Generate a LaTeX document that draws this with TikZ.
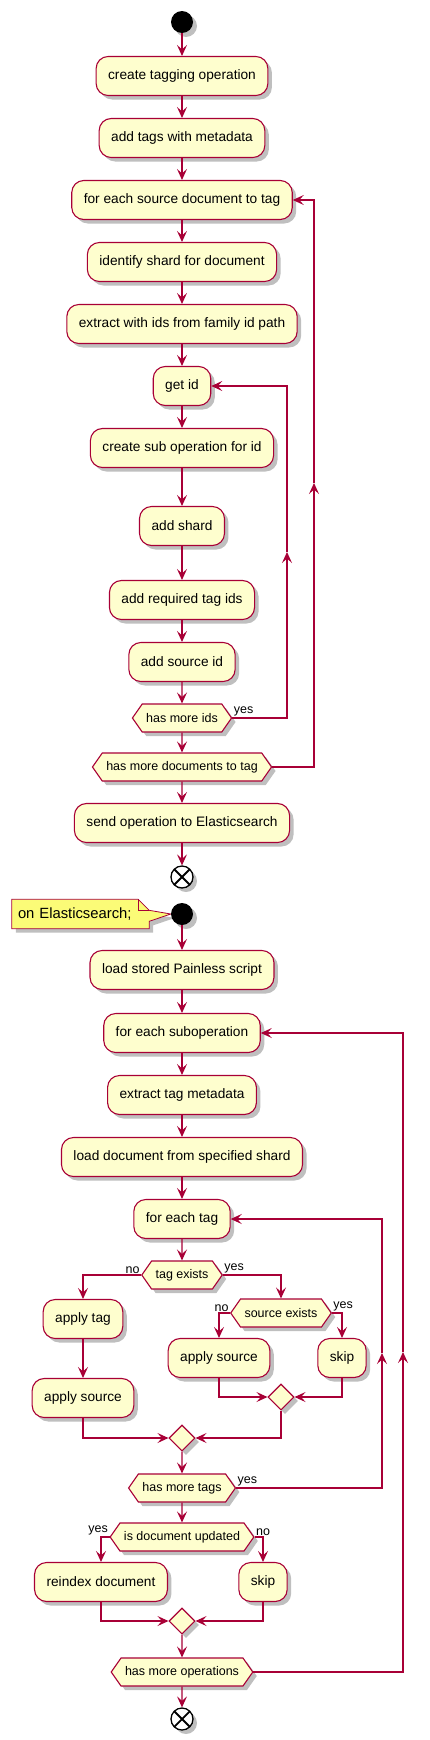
\documentclass[tikz,border=0pt]{standalone}
\usepackage{fontspec}
\setmainfont{Liberation Sans}
\usetikzlibrary{positioning,arrows.meta,shapes.geometric,shapes.symbols,shadows}
\definecolor{umlred}{HTML}{A80036}
\definecolor{umlfill}{HTML}{FEFECE}
\definecolor{notefill}{HTML}{FBFB77}
\newcommand{\actfont}{\fontsize{13.7}{16}\selectfont}
\newcommand{\condfont}{\fontsize{12.5}{15}\selectfont}
\newcommand{\notefont}{\fontsize{14.8}{17}\selectfont}
\pgfdeclarelayer{background}
\pgfsetlayers{background,main}
\tikzset{
umlshadow/.style={drop shadow={shadow xshift=4pt, shadow yshift=-4pt, fill=black, opacity=0.25}},
actnode/.style={rectangle, rounded corners=12pt, draw=umlred, fill=umlfill, line width=1.1pt,
                minimum height=39pt, inner xsep=12pt, font=\actfont, umlshadow},
condnode/.style={signal, signal to=west and east, signal pointer angle=110, draw=umlred, fill=umlfill,
                 line width=1.1pt, minimum height=28pt, inner xsep=4pt, inner ysep=2pt, font=\condfont, umlshadow},
mergenode/.style={diamond, draw=umlred, fill=umlfill, line width=1.1pt, minimum size=26pt, inner sep=0pt, umlshadow},
startnode/.style={circle, fill=black, minimum size=22pt, inner sep=0pt, umlshadow},
endnode/.style={circle, draw=black, fill=white, line width=1.3pt, minimum size=22pt, inner sep=0pt, umlshadow,
                path picture={\draw[line width=1.8pt] (path picture bounding box.south west) -- (path picture bounding box.north east)
                              (path picture bounding box.north west) -- (path picture bounding box.south east);}},
notetext/.style={rectangle, text width=125pt, align=left, minimum height=29pt, inner xsep=6pt, inner ysep=0pt, font=\notefont},
notepen/.style={draw=umlred, fill=notefill, line width=0.8pt, line join=miter},
flow/.style={->, draw=umlred, line width=1.1pt},
lbl/.style={font=\condfont, inner sep=1pt},
>={Stealth[length=11pt, width=10pt, inset=4.5pt]}
}

\begin{document}
\begin{tikzpicture}[x=1pt, y=-1pt]
\useasboundingbox (0,0) rectangle (430,1740);

%Tagging nodes
\node[startnode] (start1) at(182,22) {};
\node[actnode] (create) at(182,76) {create tagging operation};
\node[actnode] (addtags) at(182,138) {add tags with metadata};
\node[actnode] (foreachdoc) at(182,200) {for each source document to tag};
\node[actnode] (identify) at(182,262) {identify shard for document};
\node[actnode] (extract) at(182,324) {extract with ids from family id path};
\node[actnode] (getid) at(182,386) {get id};
\node[actnode] (createsub) at(182,448) {create sub operation for id};
\node[actnode] (addshard) at(182,526) {add shard};
\node[actnode] (addreq) at(182,600) {add required tag ids};
\node[actnode] (addsrc) at(182,662) {add source id};
\node[condnode] (moreids) at(182,718) {has more ids};
\node[condnode] (moredocs) at(182,767) {has more documents to tag};
\node[actnode] (send) at(182,823) {send operation to Elasticsearch};
\node[endnode] (end1) at(182,877) {};

\coordinate (idsmid) at(287,552);
\coordinate (docsmid) at(314,483);

\draw[flow] (start1) -- (create);
\draw[flow] (create) -- (addtags);
\draw[flow] (addtags) -- (foreachdoc);
\draw[flow] (foreachdoc) -- (identify);
\draw[flow] (identify) -- (extract);
\draw[flow] (extract) -- (getid);
\draw[flow] (getid) -- (createsub);
\draw[flow] (createsub) -- (addshard);
\draw[flow] (addshard) -- (addreq);
\draw[flow] (addreq) -- (addsrc);
\draw[flow] (addsrc) -- (moreids);
\draw[flow] (moreids.east) node[lbl, anchor=south west] {yes} -| (idsmid);
\draw[flow] (idsmid) |- (getid.east);
\draw[flow] (moreids) -- (moredocs);
\draw[flow] (moredocs.east) -| (docsmid);
\draw[flow] (docsmid) |- (foreachdoc.east);
\draw[flow] (moredocs) -- (send);
\draw[flow] (send) -- (end1);

%Elasticsearch nodes
\node[startnode] (start2) at(182,914) {};
\node[notetext] (note) at(80.5,914) {on Elasticsearch;};
\node[actnode] (loadscript) at(182,970) {load stored Painless script};
\node[actnode] (foreachsub) at(182,1033) {for each suboperation};
\node[actnode] (extracttag) at(182,1095) {extract tag metadata};
\node[actnode] (loaddoc) at(182,1157) {load document from specified shard};
\node[actnode] (foreachtag) at(182,1219) {for each tag};
\node[condnode] (tagexists) at(182,1275) {tag exists};
\node[actnode] (applytag) at(83,1319) {apply tag};
\node[actnode] (applysrcA) at(83,1398) {apply source};
\node[condnode] (srcexists) at(281,1313) {source exists};
\node[actnode] (applysrcB) at(219,1358) {apply source};
\node[actnode] (skipA) at(342,1358) {skip};
\node[mergenode] (mergeA) at(281,1397) {};
\node[mergenode] (mergeB) at(182,1438) {};
\node[condnode] (moretags) at(182,1488) {has more tags};
\node[condnode] (docupdated) at(182,1537) {is document updated};
\node[actnode] (reindex) at(101,1582) {reindex document};
\node[actnode] (skipB) at(263,1582) {skip};
\node[mergenode] (mergeC) at(182,1621) {};
\node[condnode] (moreops) at(182,1672) {has more operations};
\node[endnode] (end2) at(182,1719) {};

\coordinate (tagsmid) at(382,1353);
\coordinate (opsmid) at(403,1352);

% note with folded corner
\begin{pgfonlayer}{background}
\draw[notepen, umlshadow] (note.north west) -- ([xshift=-11pt]note.north east) -- ([yshift=-11pt]note.north east)
  -- (start2.west) -- ([yshift=-22pt]note.north east) -- (note.south east) -- (note.south west) -- cycle;
\draw[notepen, fill=none] ([xshift=-11pt]note.north east) -- ([xshift=-11pt, yshift=-11pt]note.north east)
  -- ([yshift=-11pt]note.north east);
\end{pgfonlayer}

\draw[flow] (start2) -- (loadscript);
\draw[flow] (loadscript) -- (foreachsub);
\draw[flow] (foreachsub) -- (extracttag);
\draw[flow] (extracttag) -- (loaddoc);
\draw[flow] (loaddoc) -- (foreachtag);
\draw[flow] (foreachtag) -- (tagexists);
\draw[flow] (tagexists.west) node[lbl, anchor=south east] {no} -| (applytag.north);
\draw[flow] (tagexists.east) node[lbl, anchor=south west] {yes} -| (srcexists.north);
\draw[flow] (srcexists.west) node[lbl, anchor=south east] {no} -| (applysrcB.north);
\draw[flow] (srcexists.east) node[lbl, anchor=south west] {yes} -| (skipA.north);
\draw[flow] (applytag) -- (applysrcA);
\draw[flow] (applysrcB.south) |- (mergeA.west);
\draw[flow] (skipA.south) |- (mergeA.east);
\draw[flow] (applysrcA.south) |- (mergeB.west);
\draw[flow] (mergeA.south) |- (mergeB.east);
\draw[flow] (mergeB) -- (moretags);
\draw[flow] (moretags.east) node[lbl, anchor=south west] {yes} -| (tagsmid);
\draw[flow] (tagsmid) |- (foreachtag.east);
\draw[flow] (moretags) -- (docupdated);
\draw[flow] (docupdated.west) node[lbl, anchor=south east] {yes} -| (reindex.north);
\draw[flow] (docupdated.east) node[lbl, anchor=south west] {no} -| (skipB.north);
\draw[flow] (reindex.south) |- (mergeC.west);
\draw[flow] (skipB.south) |- (mergeC.east);
\draw[flow] (mergeC) -- (moreops);
\draw[flow] (moreops.east) -| (opsmid);
\draw[flow] (opsmid) |- (foreachsub.east);
\draw[flow] (moreops) -- (end2);

\end{tikzpicture}
\end{document}
